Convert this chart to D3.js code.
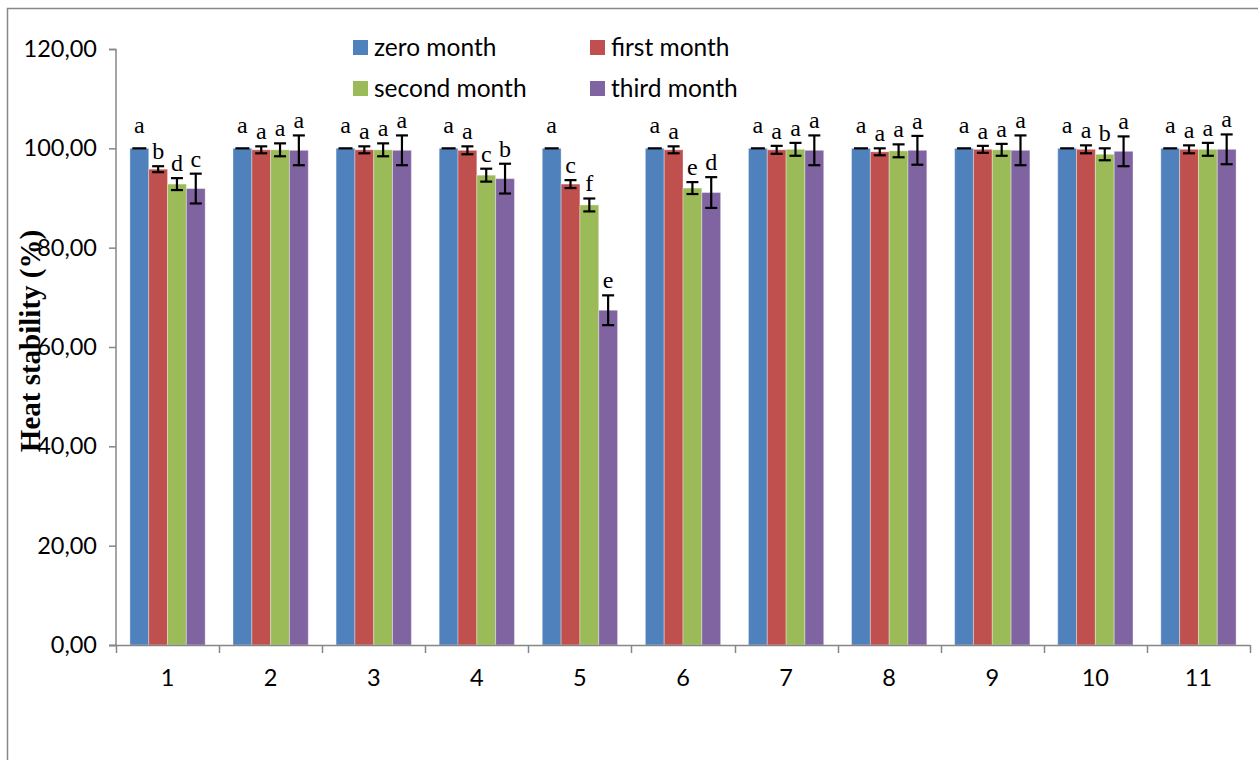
<!DOCTYPE html>
<html><head><meta charset="utf-8">
<script src="https://cdn.jsdelivr.net/npm/d3@7"></script>
<style>body{margin:0;background:#fff}</style>
</head><body>
<svg id="c" width="1258" height="760"></svg>
<script>
const categories = ["1","2","3","4","5","6","7","8","9","10","11"];
const seriesNames = ["zero month","first month","second month","third month"];
const colors = ["#4F81BD","#C0504D","#9BBB59","#8064A2"];
const zeroMonth   = [100,100,100,100,100,100,100,100,100,100,100];
const firstMonth  = [95.8,99.7,99.7,99.6,92.8,99.7,99.7,99.3,99.8,99.8,99.8];
const secondMonth = [92.8,99.7,99.7,94.6,88.6,92.0,99.8,99.5,99.7,98.8,99.8];
const thirdMonth  = [91.9,99.6,99.6,93.9,67.4,91.1,99.6,99.6,99.6,99.4,99.8];
const zeroErr   = [0,0,0,0,0,0,0,0,0,0,0];
const firstErr  = [0.6,0.7,0.7,0.8,0.8,0.7,0.8,0.7,0.7,0.8,0.8];
const secondErr = [1.2,1.3,1.3,1.3,1.3,1.2,1.3,1.3,1.2,1.2,1.3];
const thirdErr  = [3.0,3.0,3.0,3.0,3.0,3.1,3.0,2.9,3.0,3.0,3.0];
const zeroLetters   = ["a","a","a","a","a","a","a","a","a","a","a"];
const firstLetters  = ["b","a","a","a","c","a","a","a","a","a","a"];
const secondLetters = ["d","a","a","c","f","e","a","a","a","b","a"];
const thirdLetters  = ["c","a","a","b","e","d","a","a","a","a","a"];
const yTicks = [0,20,40,60,80,100,120];
const yTitle = "Heat stability (%)";

const values = [zeroMonth, firstMonth, secondMonth, thirdMonth];
const errs = [zeroErr, firstErr, secondErr, thirdErr];
const letters = [zeroLetters, firstLetters, secondLetters, thirdLetters];
const sans = "Lato, 'Open Sans', sans-serif";
const serif = "'Liberation Serif', 'Times New Roman', serif";

const svg = d3.select("#c");
svg.append("path").attr("d","M7.5,770 V8.5 H1270").attr("fill","none").attr("stroke","#888").attr("stroke-width",1.5);

const x0 = d3.scaleBand().domain(categories).range([116,1250]).paddingInner(0.27).paddingOuter(0.135);
const x1 = d3.scaleBand().domain(d3.range(4)).range([0,x0.bandwidth()]);
const y = d3.scaleLinear().domain([0,120]).range([645,49]);

const fmt = v => d3.format(".2f")(v).replace(".",",");
const yAxis = svg.append("g").attr("transform","translate(116,0)")
  .call(d3.axisLeft(y).tickValues(yTicks).tickFormat(fmt).tickSize(7).tickPadding(12));
yAxis.select(".domain").attr("stroke","#868686").attr("stroke-width",1.5).attr("d","M-7,645.5H0V49.5H-7");
yAxis.selectAll(".tick line").attr("stroke","#868686").attr("stroke-width",1.5);
yAxis.selectAll("text").attr("font-family",sans).attr("font-size",23.5).attr("fill","#000");

const g = svg.append("g");
categories.forEach((c,i) => {
  const gx = x0(c);
  for (let s=0;s<4;s++){
    const v = values[s][i], e = errs[s][i];
    const bx = gx + x1(s), bw = x1.bandwidth();
    g.append("rect").attr("x",bx).attr("y",y(v)).attr("width",bw).attr("height",y(0)-y(v))
      .attr("fill",colors[s]).attr("stroke","rgba(255,255,255,0.35)").attr("stroke-width",1);
    const cx = bx + bw/2;
    const eg = g.append("g").attr("stroke","#000").attr("stroke-width",2.2);
    if (e>0){
      eg.append("line").attr("x1",cx).attr("x2",cx).attr("y1",y(v+e)).attr("y2",y(v-e));
      eg.append("line").attr("x1",cx-6).attr("x2",cx+6).attr("y1",y(v+e)).attr("y2",y(v+e));
      eg.append("line").attr("x1",cx-6).attr("x2",cx+6).attr("y1",y(v-e)).attr("y2",y(v-e));
    } else {
      eg.append("line").attr("x1",cx-7).attr("x2",cx+7).attr("y1",y(v)).attr("y2",y(v));
    }
    g.append("text").attr("x",cx).attr("y",y(v+e)-(e>0?7:15)).attr("text-anchor","middle")
      .attr("font-family",serif).attr("font-size",24).attr("fill","#000")
      .text(letters[s][i]);
  }
});

const xAxis = svg.append("g").attr("transform","translate(0,645)");
xAxis.append("line").attr("x1",109).attr("x2",1250).attr("y1",0.5).attr("y2",0.5).attr("stroke","#868686").attr("stroke-width",1.5);
const bounds = categories.map(c => x0(c) - x0.step()*x0.paddingInner()/2);
bounds.push(1250);
bounds.forEach(b => xAxis.append("line").attr("x1",Math.round(b)+0.5).attr("x2",Math.round(b)+0.5).attr("y1",0).attr("y2",8).attr("stroke","#868686").attr("stroke-width",1.5));
categories.forEach(c => xAxis.append("text").attr("x",x0(c)+x0.bandwidth()/2).attr("y",41).attr("text-anchor","middle")
  .attr("font-family",sans).attr("font-size",23.5).attr("fill","#000").text(c));

svg.append("text").attr("transform","translate(40,341) rotate(-90)").attr("text-anchor","middle")
  .attr("font-family",serif).attr("font-weight","bold").attr("font-size",29).attr("fill","#000")
  .text(yTitle);

const legPos = [[353,40],[590,40],[353,81],[590,81]];
seriesNames.forEach((n,s) => {
  const [lx,ly] = legPos[s];
  svg.append("rect").attr("x",lx).attr("y",ly).attr("width",15).attr("height",15).attr("fill",colors[s]);
  svg.append("text").attr("x",lx+21).attr("y",ly+16).attr("font-family",sans)
    .attr("font-size",24.5).attr("fill","#000").text(n);
});
</script>
</body></html>
